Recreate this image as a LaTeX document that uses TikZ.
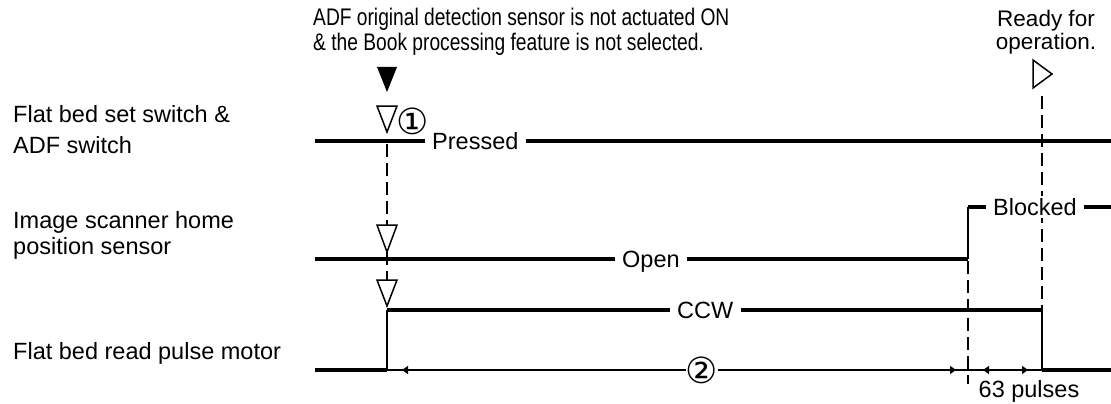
\documentclass[tikz,border=0pt]{standalone}
\usepackage{fontspec}
\setmainfont{Liberation Sans}
\newfontfamily\condfont[FakeStretch=0.8]{Liberation Sans}
\newfontfamily\symfont{DejaVu Sans}
\usetikzlibrary{arrows.meta}
\begin{document}
\begin{tikzpicture}[x=1pt,y=-1pt,
  sig/.style={line width=4.3pt},
  edgeline/.style={line width=2.6pt},
  guide/.style={line width=1.4pt, dash pattern=on 13pt off 6pt},
  dimline/.style={line width=1.3pt},
  tipped/.style={dimline, {Triangle[length=6pt,width=8pt]}-{Triangle[length=6pt,width=8pt]}},
  lbl/.style={font=\fontsize{23.5}{28}\selectfont, inner sep=0pt, anchor=base west},
  siglbl/.style={font=\fontsize{23.5}{28}\selectfont, fill=white, inner xsep=7pt, inner ysep=2pt, anchor=base west},
  toptxt/.style={font=\condfont\fontsize{24}{26}\selectfont, inner sep=0pt, anchor=base west},
  rdy/.style={font=\fontsize{22.5}{24}\selectfont, inner sep=0pt, anchor=base},
  circnum/.style={font=\symfont\fontsize{36}{36}\selectfont, inner sep=0pt},
  opentri/.style={line width=1.5pt, line join=miter, fill=white},
  solidtri/.style={fill=black}
]
\useasboundingbox (0,0) rectangle (1111,404);

% ---------- left labels ----------
\node[lbl] (lab1a) at (13,122) {Flat bed set switch \&};
\node[lbl] (lab1b) at (13,153) {ADF switch};
\node[lbl] (lab2a) at (13,228) {Image scanner home};
\node[lbl] (lab2b) at (13,254) {position sensor};
\node[lbl] (lab3)  at (13,359) {Flat bed read pulse motor};

% ---------- top annotations ----------
\node[toptxt] (top1) at (313,26) {ADF original detection sensor is not actuated ON};
\node[toptxt] (top2) at (313,51) {\& the Book processing feature is not selected.};
\node[rdy] (rdy1) at (1046,27) {Ready for};
\node[rdy] (rdy2) at (1046,50) {operation.};

% ---------- coordinates ----------
\coordinate (r1s) at (315,141);
\coordinate (r1e) at (1111,141);
\coordinate (r2s) at (315,259);
\coordinate (r2rise) at (968,259);
\coordinate (r2top) at (968,207);
\coordinate (r2e) at (1111,207);
\coordinate (r3s) at (315,370);
\coordinate (r3rise) at (387,370);
\coordinate (r3top) at (387,310);
\coordinate (r3fall) at (1042,310);
\coordinate (r3low) at (1042,370);
\coordinate (r3e) at (1111,370);

% ---------- guide (dashed) lines ----------
\coordinate (g1a) at (387,144);
\coordinate (g1b) at (387,225);
\coordinate (g2a) at (387,252);
\coordinate (g2b) at (387,280);
\coordinate (g3a) at (968,261);
\coordinate (g3b) at (968,384);
\coordinate (g4a) at (1042,96);
\coordinate (g4b) at (1042,310);
\draw[guide] (g1a) -- (g1b);
\draw[guide] (g2a) -- (g2b);
\draw[guide] (g3a) -- (g3b);
\draw[guide] (g4a) -- (g4b);

% ---------- signal 1 ----------
\node[siglbl] (pressed) at (425,149.5) {Pressed};
\draw[sig] (r1s) -- (pressed.west |- r1s);
\draw[sig] (pressed.east |- r1s) -- (r1e);

% ---------- signal 2 ----------
\node[siglbl] (open) at (615,267.5) {Open};
\node[siglbl] (blocked) at (986,215.5) {Blocked};
\draw[sig] (r2s) -- (open.west |- r2s);
\draw[sig] (open.east |- r2s) -- (r2rise);
\draw[edgeline] (r2rise) -- (r2top);
\draw[sig] (r2top) -- (blocked.west |- r2top);
\draw[sig] (blocked.east |- r2top) -- (r2e);

% ---------- signal 3 ----------
\node[siglbl] (ccw) at (670,318.5) {CCW};
\draw[sig] (r3s) -- (r3rise);
\draw[edgeline] (r3rise) -- (r3top);
\draw[sig] (r3top) -- (ccw.west |- r3top);
\draw[sig] (ccw.east |- r3top) -- (r3fall);
\draw[edgeline] (r3fall) -- (r3low);
\draw[sig] (r3low) -- (r3e);

% ---------- dimension lines ----------
\draw[dimline] (r3rise) -- (r3low);
\coordinate (d2a) at (402,370);
\coordinate (d2b) at (956,370);
\coordinate (d63a) at (983,370);
\coordinate (d63b) at (1028,370);
\draw[tipped] (d2a) -- (d2b);
\draw[tipped] (d63a) -- (d63b);
\node[circnum, fill=white] (n2) at (702,370) {②};
\node[font=\fontsize{23.5}{28}\selectfont, inner sep=0pt, anchor=base] (pulses) at (1029,397) {63 pulses};

% ---------- markers ----------
\coordinate (blk) at (387,92);
\fill[solidtri] (blk) -- ++(-10,-25) -- ++(20,0) -- cycle;
\coordinate (m1) at (387,132);
\draw[opentri] (m1) -- ++(-10,-26) -- ++(20,0) -- cycle;
\node[circnum] (n1) at (413,121) {①};
\coordinate (m2) at (387,252);
\draw[opentri] (m2) -- ++(-10,-27) -- ++(20,0) -- cycle;
\coordinate (m3) at (387,306);
\draw[opentri] (m3) -- ++(-10,-26) -- ++(20,0) -- cycle;
\coordinate (rdytri) at (1033,60);
\draw[opentri] (rdytri) -- ++(19,14) -- ++(-19,14) -- cycle;
\end{tikzpicture}
\end{document}
